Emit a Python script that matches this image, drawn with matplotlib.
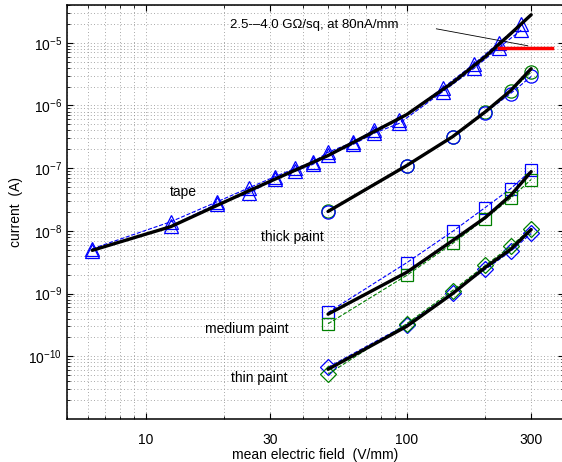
import numpy as np
import matplotlib.pyplot as plt
from matplotlib.ticker import LogLocator, FixedLocator, NullFormatter

plt.rcParams['font.family'] = ['Liberation Sans', 'DejaVu Sans']
plt.rcParams['mathtext.fontset'] = 'custom'
plt.rcParams['mathtext.rm'] = 'Liberation Sans'

# tape (triangles), two sweeps
tape_field = [6.25, 12.5, 18.75, 25, 31.25, 37.5, 43.75, 50, 62.5, 75, 93.75, 137.5, 181.25, 225, 275]
tape_a = [5.2e-9, 1.4e-8, 2.9e-8, 4.9e-8, 7.3e-8, 1.0e-7, 1.25e-7, 1.8e-7, 2.6e-7, 4.1e-7, 5.9e-7, 1.9e-6, 4.6e-6, 1.0e-5, 2.0e-5]
tape_b = [4.8e-9, 1.2e-8, 2.7e-8, 4.0e-8, 6.8e-8, 9.0e-8, 1.15e-7, 1.6e-7, 2.4e-7, 3.6e-7, 5.2e-7, 1.66e-6, 3.9e-6, 8.3e-6, 1.6e-5]
tape_fit_field = [6.25, 12.5, 25, 50, 100, 150, 200, 250, 300]
tape_fit = [4.9e-9, 1.17e-8, 4.4e-8, 1.59e-7, 7.15e-7, 2.31e-6, 6.0e-6, 1.39e-5, 2.8e-5]

# painted samples, blue / green repeats
field = [50, 100, 150, 200, 250, 300]
thick_b = [2.0e-8, 1.1e-7, 3.2e-7, 7.7e-7, 1.55e-6, 2.9e-6]
thick_g = [2.1e-8, 1.1e-7, 3.15e-7, 7.9e-7, 1.7e-6, 3.4e-6]
thick_fit = [2.04e-8, 1.1e-7, 3.18e-7, 7.9e-7, 1.72e-6, 3.86e-6]
medium_b = [5.0e-10, 3.1e-9, 9.8e-9, 2.36e-8, 4.7e-8, 9.2e-8]
medium_g = [3.3e-10, 1.95e-9, 6.3e-9, 1.57e-8, 3.3e-8, 6.6e-8]
medium_fit = [4.7e-10, 2.18e-9, 7.0e-9, 1.63e-8, 3.66e-8, 8.8e-8]
thin_b = [6.7e-11, 3.2e-10, 1.04e-9, 2.43e-9, 4.7e-9, 9.1e-9]
thin_g = [5.2e-11, 3.3e-10, 1.12e-9, 2.81e-9, 5.65e-9, 1.09e-8]
thin_fit = [6.2e-11, 3.0e-10, 1.0e-9, 2.61e-9, 5.06e-9, 1.05e-8]

blue = (0, 0, 1)
green = (0, 0.5, 0)

fig = plt.figure(figsize=(5.62, 4.62), dpi=100)
ax = fig.add_axes([0.1192, 0.0931, 0.884, 0.896])
ax.set_xscale('log')
ax.set_yscale('log')

mk = dict(fillstyle='none', markeredgewidth=0.9, linestyle='--', linewidth=0.8)
ax.plot(tape_field, tape_a, marker='^', color=blue, markersize=9.5, **mk)
ax.plot(tape_field, tape_b, marker='^', color=blue, markersize=9.5, **mk)
ax.plot(field, thick_g, marker='o', color=green, markersize=9.5, **mk)
ax.plot(field, thick_b, marker='o', color=blue, markersize=9.5, **mk)
ax.plot(field, medium_b, marker='s', color=blue, markersize=8, **mk)
ax.plot(field, medium_g, marker='s', color=green, markersize=8, **mk)
ax.plot(field, thin_b, marker='D', color=blue, markersize=8, **mk)
ax.plot(field, thin_g, marker='D', color=green, markersize=8, **mk)

for fx, fy in [(tape_fit_field, tape_fit), (field, thick_fit), (field, medium_fit), (field, thin_fit)]:
    ax.plot(fx, fy, color='k', linewidth=2.4, solid_capstyle='round')

# sheet-resistance marker
ax.plot([225, 360], [8.3e-6, 8.3e-6], color='red', linewidth=2.5)
ax.plot([130, 291], [1.67e-5, 8.96e-6], color='k', linewidth=0.6)
ax.text(21, 1.95e-5, '2.5-\u20134.0 G\u03a9/sq, at 80nA/mm', fontsize=9.5, va='center', ha='left')

fs = 10
ax.text(14.0, 4.1e-8, 'tape', fontsize=fs, ha='center', va='center')
ax.text(36.6, 7.85e-9, 'thick paint', fontsize=fs, ha='center', va='center')
ax.text(24.4, 2.69e-10, 'medium paint', fontsize=fs, ha='center', va='center')
ax.text(27.3, 4.47e-11, 'thin paint', fontsize=fs, ha='center', va='center')

ax.set_xlim(5, 400)
ax.set_ylim(1e-11, 4e-5)
ax.xaxis.set_major_locator(FixedLocator([10, 30, 100, 300]))
ax.set_xticklabels(['10', '30', '100', '300'])
ax.xaxis.set_minor_locator(LogLocator(base=10, subs=np.arange(1, 10)))
ax.xaxis.set_minor_formatter(NullFormatter())
ax.yaxis.set_major_locator(FixedLocator([1e-10, 1e-9, 1e-8, 1e-7, 1e-6, 1e-5]))
ax.set_yticklabels(['$10^{-10}$', '$10^{-9}$', '$10^{-8}$', '$10^{-7}$', '$10^{-6}$', '$10^{-5}$'])
ax.yaxis.set_minor_locator(LogLocator(base=10, subs=np.arange(2, 10)))
ax.yaxis.set_minor_formatter(NullFormatter())

ax.grid(True, which='both', linestyle=(0, (1, 3)), color='0.55', linewidth=0.6)
ax.tick_params(which='both', direction='in', top=True, right=True, labelsize=fs)
ax.tick_params(axis='x', which='major', pad=10)
ax.tick_params(which='major', length=4)
ax.tick_params(which='minor', length=2)
for s in ax.spines.values():
    s.set_linewidth(1.1)

ax.set_xlabel('mean electric field  (V/mm)', fontsize=fs, labelpad=1)
ax.set_ylabel('current  (A)', fontsize=fs, labelpad=4)

fig.savefig('out.png', dpi=100)
